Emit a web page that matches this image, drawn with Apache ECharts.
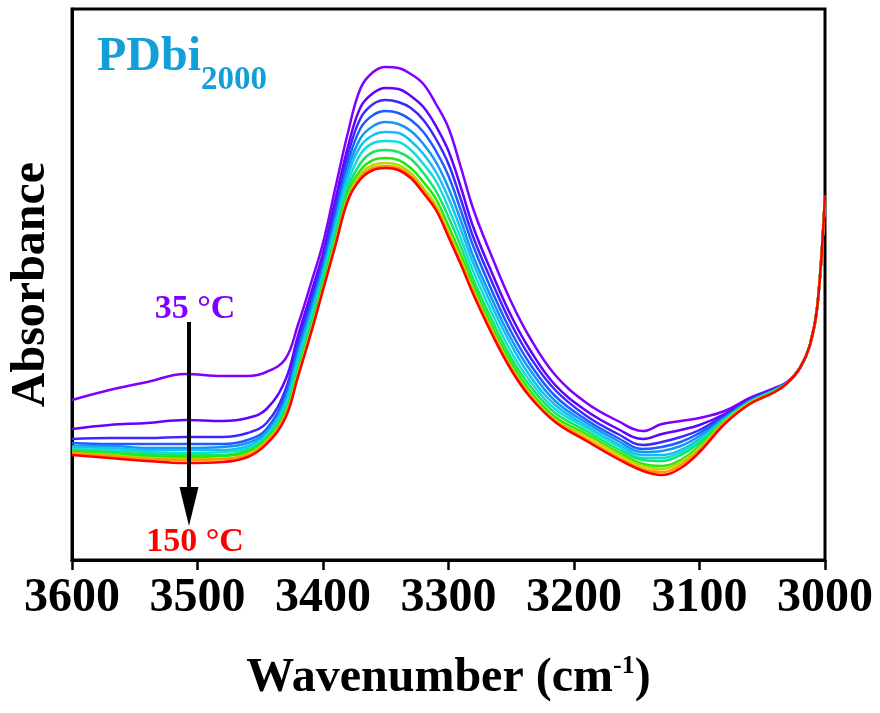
<!DOCTYPE html>
<html>
<head>
<meta charset="utf-8">
<script src="https://cdn.jsdelivr.net/npm/echarts@6/dist/echarts.min.js"></script>
<style>
html,body{margin:0;padding:0;background:#fff;}
#chart{width:880px;height:713px;}
</style>
</head>
<body>
<div id="chart"></div>
<script>
// Wavenumber (cm-1) sampling positions
const wavenumber = [3600,3570,3540,3510,3480,3460,3445,3430,3420,3410,3400,3390,3380,3370,3360,3350,3340,3330,3320,3310,3300,3290,3280,3265,3250,3235,3215,3190,3165,3145,3130,3115,3100,3080,3060,3040,3030,3020,3012,3006,3000];

// Temperatures of the spectra
const temperatures = ['35 °C','45 °C','55 °C','65 °C','75 °C','85 °C','95 °C','105 °C','115 °C','125 °C','135 °C','150 °C'];

// Absorbance (arbitrary units)
const abs35  = [160,170,178,186,184,184,188,201,235,275,317,373,428,472,488,493,492,486,476,456,432,392,350,302,258,222,185,157,139,129,136,139,142,149,162,172,178,192,215,255,365];
const abs45  = [131,135,137,140,139,142,151,180,224,265,307,361,414,453,467,472,471,464,453,434,409,372,332,286,244,210,175,149,131,121,126,130,135,146,161,171,178,192,215,255,365];
const abs55  = [121,122,122,123,123,127,137,170,218,259,302,354,406,442,456,460,458,452,440,421,396,360,322,277,236,203,170,144,126,115,118,123,130,145,160,171,178,192,215,255,365];
const abs65  = [117,116,116,116,116,120,131,165,212,253,296,348,398,432,445,449,447,440,428,409,384,349,313,268,228,196,164,140,122,111,113,118,127,143,159,170,178,192,215,255,365];
const abs75  = [114,114,112,112,113,117,128,160,206,248,291,341,391,422,434,438,436,429,416,398,372,339,303,260,221,190,159,137,119,108,109,114,124,142,159,170,177,192,215,255,365];
const abs85  = [113,112,110,110,110,114,126,157,202,243,287,336,385,414,425,428,427,419,406,388,362,330,296,253,215,184,155,134,116,105,105,110,121,141,158,170,177,192,215,255,365];
const abs95  = [111,110,108,107,108,112,124,153,197,239,283,331,378,406,417,419,418,410,396,379,352,321,288,246,208,179,151,132,114,102,102,108,119,140,158,169,177,192,215,255,365];
const abs105 = [110,108,106,105,105,110,122,150,192,234,279,325,372,397,408,410,408,401,387,369,343,313,280,239,202,174,147,129,111,100,99,105,117,140,158,169,177,192,215,255,365];
const abs115 = [109,106,104,103,104,108,121,147,188,230,275,321,367,390,400,402,400,392,378,361,334,305,274,233,197,169,143,126,108,96,94,100,114,138,157,169,177,192,215,255,365];
const abs125 = [107,105,102,101,101,106,119,145,186,228,272,318,363,386,395,397,395,387,372,355,328,300,269,229,193,166,140,124,106,94,91,98,112,138,157,168,177,192,215,255,365];
const abs135 = [107,104,101,100,101,105,118,144,184,226,271,316,361,383,392,394,392,384,369,352,325,297,267,227,191,164,139,121,103,91,88,95,110,137,156,168,177,192,215,255,365];
const abs150 = [105,102,99,97,98,103,116,142,183,225,270,315,360,381,390,392,390,382,367,350,323,295,265,225,190,163,138,119,101,89,85,92,108,136,156,168,177,192,215,255,365];

const spectra = [abs35,abs45,abs55,abs65,abs75,abs85,abs95,abs105,abs115,abs125,abs135,abs150];

// x-axis tick values
const xTicks = [3600,3500,3400,3300,3200,3100,3000];

const colors = ['#8000ff','#6400ff','#3c28ff','#1e5cff','#1496f5','#14c0f0','#14dcd8','#14e664','#28e614','#b4dc00','#ff9600','#ff0000'];

const FONT = '"Liberation Serif","Times New Roman",serif';

const chart = echarts.init(document.getElementById('chart'), null, {renderer:'canvas'});

const series = spectra.map((arr, i) => ({
  name: temperatures[i],
  type: 'line',
  data: wavenumber.map((w, j) => [w, arr[j]]),
  smooth: 0.4,
  symbol: 'none',
  lineStyle: {width: 2.5, color: colors[i]},
  itemStyle: {color: colors[i]},
  z: 2 + i
}));

chart.setOption({
  backgroundColor: '#ffffff',
  animation: false,
  grid: {left: 71, right: 55, top: 9, bottom: 153, show: true, borderColor: '#000', borderWidth: 3, backgroundColor: 'transparent'},
  xAxis: {
    type: 'value', min: 3000, max: 3600, interval: 100, inverse: true,
    axisLine: {show: true, onZero: false, lineStyle: {color: '#000', width: 3}},
    axisTick: {show: true, inside: false, length: 10, lineStyle: {color: '#000', width: 2.5}},
    splitLine: {show: false},
    axisLabel: {
      color: '#000', fontSize: 48, fontWeight: 'bold', fontFamily: FONT, margin: 15,
      formatter: v => xTicks.includes(v) ? String(v) : ''
    },
    name: '{a|Wavenumber (cm}{b|-1}{a|)}',
    nameLocation: 'middle', nameGap: 93,
    nameTextStyle: {
      color: '#000', fontFamily: FONT, fontWeight: 'bold', fontSize: 48,
      rich: {
        a: {fontSize: 48, fontWeight: 'bold', fontFamily: FONT, color: '#000', lineHeight: 52},
        b: {fontSize: 26, fontWeight: 'bold', fontFamily: FONT, color: '#000', verticalAlign: 'top', lineHeight: 52, padding: [0,0,22,0]}
      }
    }
  },
  yAxis: {
    type: 'value', min: 0, max: 551,
    axisLine: {show: true, onZero: false, lineStyle: {color: '#000', width: 3}},
    axisTick: {show: false}, axisLabel: {show: false}, splitLine: {show: false},
    name: 'Absorbance', nameLocation: 'middle', nameGap: 16,
    nameTextStyle: {color: '#000', fontFamily: FONT, fontWeight: 'bold', fontSize: 48}
  },
  series: series,
  graphic: [
    {type: 'text', left: 97, top: 34, style: {text: 'PDbi', fill: '#129fd8', font: 'bold 48px ' + FONT}},
    {type: 'text', left: 201, top: 64, style: {text: '2000', fill: '#129fd8', font: 'bold 33px ' + FONT}},
    {type: 'text', x: 195, y: 309, style: {text: '35 °C', fill: '#8000ff', font: 'bold 34px ' + FONT, align: 'center', verticalAlign: 'middle'}},
    {type: 'text', x: 195, y: 542, style: {text: '150 °C', fill: '#ff0000', font: 'bold 34px ' + FONT, align: 'center', verticalAlign: 'middle'}},
    {type: 'line', shape: {x1: 189, y1: 322, x2: 189, y2: 492}, style: {stroke: '#000', lineWidth: 4}, z: 100},
    {type: 'polygon', shape: {points: [[179.5,487],[198.5,487],[189,526]]}, style: {fill: '#000'}, z: 100}
  ]
});
</script>
</body>
</html>
